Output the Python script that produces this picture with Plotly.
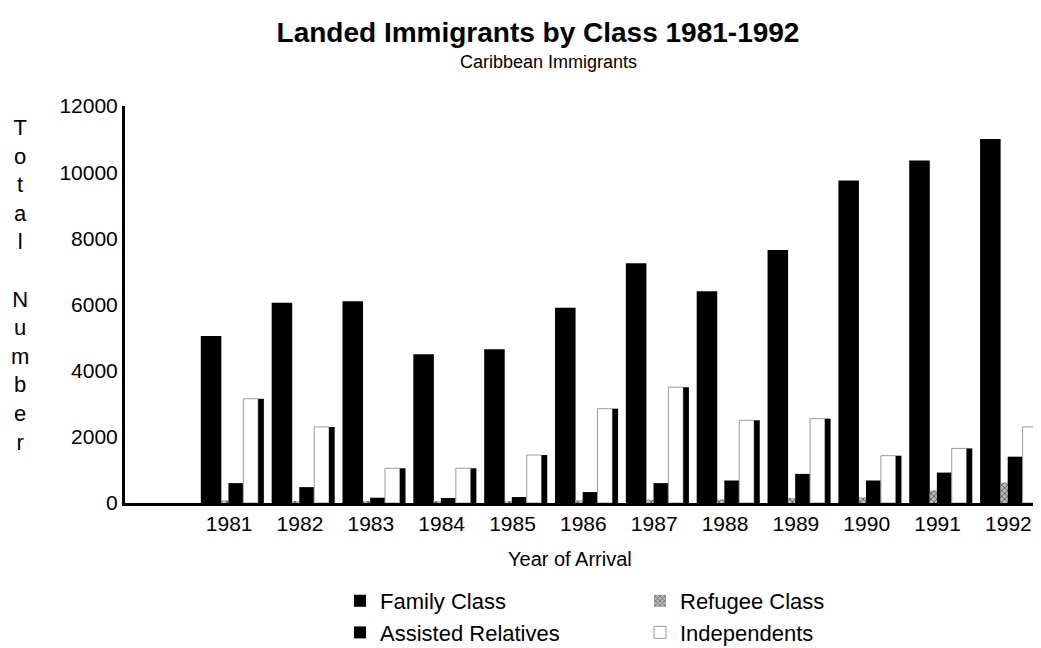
import plotly.graph_objects as go

# ---- data ----
years = [1981, 1982, 1983, 1984, 1985, 1986, 1987, 1988, 1989, 1990, 1991, 1992]
family_class = [5050, 6050, 6100, 4500, 4650, 5900, 7250, 6400, 7650, 9750, 10350, 11000]
refugee_class = [80, 60, 50, 40, 60, 80, 100, 110, 150, 170, 380, 620]
assisted_relatives = [600, 480, 160, 150, 180, 330, 600, 680, 880, 680, 920, 1400]
independents = [3150, 2300, 1050, 1050, 1450, 2850, 3500, 2500, 2550, 1430, 1650, 2300]
y_ticks = [0, 2000, 4000, 6000, 8000, 10000, 12000]
y_tick_labels = ["0", "2000", "4000", "6000", "8000", "10000", "12000"]

FONT = "Liberation Sans, Arial, Helvetica, sans-serif"

# The page body keeps its default 8px margin, so the figure is 8px smaller
# than the 1041x648 window and every container position is measured from (8, 8).
PAGE_OFF = 8
W, H = 1041 - PAGE_OFF, 648 - PAGE_OFF

fig = go.Figure()

fig.add_trace(go.Bar(
    x=years, y=family_class, name="Family Class",
    offset=-0.40, width=0.29,
    marker=dict(color="black", line=dict(width=0)),
    legend="legend",
))
fig.add_trace(go.Bar(
    x=years, y=refugee_class, name="Refugee Class",
    offset=-0.11, width=0.10,
    marker=dict(color="#777777", line=dict(width=0),
                pattern=dict(shape="x", fgcolor="black", bgcolor="#bbbbbb", size=4, solidity=0.4)),
    legend="legend2",
))
fig.add_trace(go.Bar(
    x=years, y=assisted_relatives, name="Assisted Relatives",
    offset=-0.01, width=0.21,
    marker=dict(color="black", line=dict(width=0)),
    legend="legend",
))
fig.add_trace(go.Bar(
    x=years, y=independents, name="Independents",
    offset=0.20, width=0.21,
    marker=dict(color="white", line=dict(color="#9a9a9a", width=1)),
    legend="legend2",
))
# dark side face of the Independents bars (3-D look of the original)
fig.add_trace(go.Bar(
    x=years, y=independents, name="Independents",
    offset=0.41, width=0.08,
    marker=dict(color="black", line=dict(width=0)),
    showlegend=False, hoverinfo="skip", legend="legend2",
))

fig.update_layout(
    width=W, height=H,
    margin=dict(l=125 - PAGE_OFF, r=0, t=106 - PAGE_OFF, b=145, autoexpand=False),
    paper_bgcolor="white", plot_bgcolor="white",
    font=dict(family=FONT, color="black", size=20),
    barmode="group",
    title=dict(
        text="<b>Landed Immigrants by Class 1981-1992</b>",
        x=(538 - PAGE_OFF) / W, xanchor="center",
        y=1 - (32 - PAGE_OFF) / H, yanchor="middle",
        font=dict(family=FONT, size=28, color="black"),
    ),
    xaxis=dict(
        range=[1979.53, 1992.46],
        tickvals=years, ticktext=[str(v) for v in years],
        showgrid=False, zeroline=False,
        showline=True, linecolor="black", linewidth=3,
        ticks="", tickfont=dict(size=21),
    ),
    yaxis=dict(
        range=[0, 12000],
        tickvals=y_ticks, ticktext=y_tick_labels,
        showgrid=False, zeroline=False,
        showline=True, linecolor="black", linewidth=3,
        ticks="", tickfont=dict(size=21),
    ),
    legend=dict(
        xref="container", yref="container",
        x=(340 - PAGE_OFF) / W, y=1 - (580 - PAGE_OFF) / H,
        xanchor="left", yanchor="top",
        orientation="v", font=dict(size=22),
        bgcolor="rgba(0,0,0,0)", traceorder="normal",
    ),
    legend2=dict(
        xref="container", yref="container",
        x=(640 - PAGE_OFF) / W, y=1 - (580 - PAGE_OFF) / H,
        xanchor="left", yanchor="top",
        orientation="v", font=dict(size=22),
        bgcolor="rgba(0,0,0,0)", traceorder="normal",
    ),
    annotations=[
        dict(text="Caribbean Immigrants", xref="paper", yref="paper",
             x=(548 - 125) / 916, y=(503 - 62) / 397, xanchor="center", yanchor="middle",
             showarrow=False, font=dict(size=18)),
        dict(text="Year of Arrival", xref="paper", yref="paper",
             x=(570 - 125) / 916, y=(503 - 559) / 397, xanchor="center", yanchor="middle",
             showarrow=False, font=dict(size=20)),
        dict(text="T<br>o<br>t<br>a<br>l<br> <br>N<br>u<br>m<br>b<br>e<br>r",
             xref="paper", yref="paper",
             x=(20 - 125) / 916, y=(503 - 285) / 397, xanchor="center", yanchor="middle",
             showarrow=False, font=dict(size=22)),
    ],
)

fig.write_html("out.html")
